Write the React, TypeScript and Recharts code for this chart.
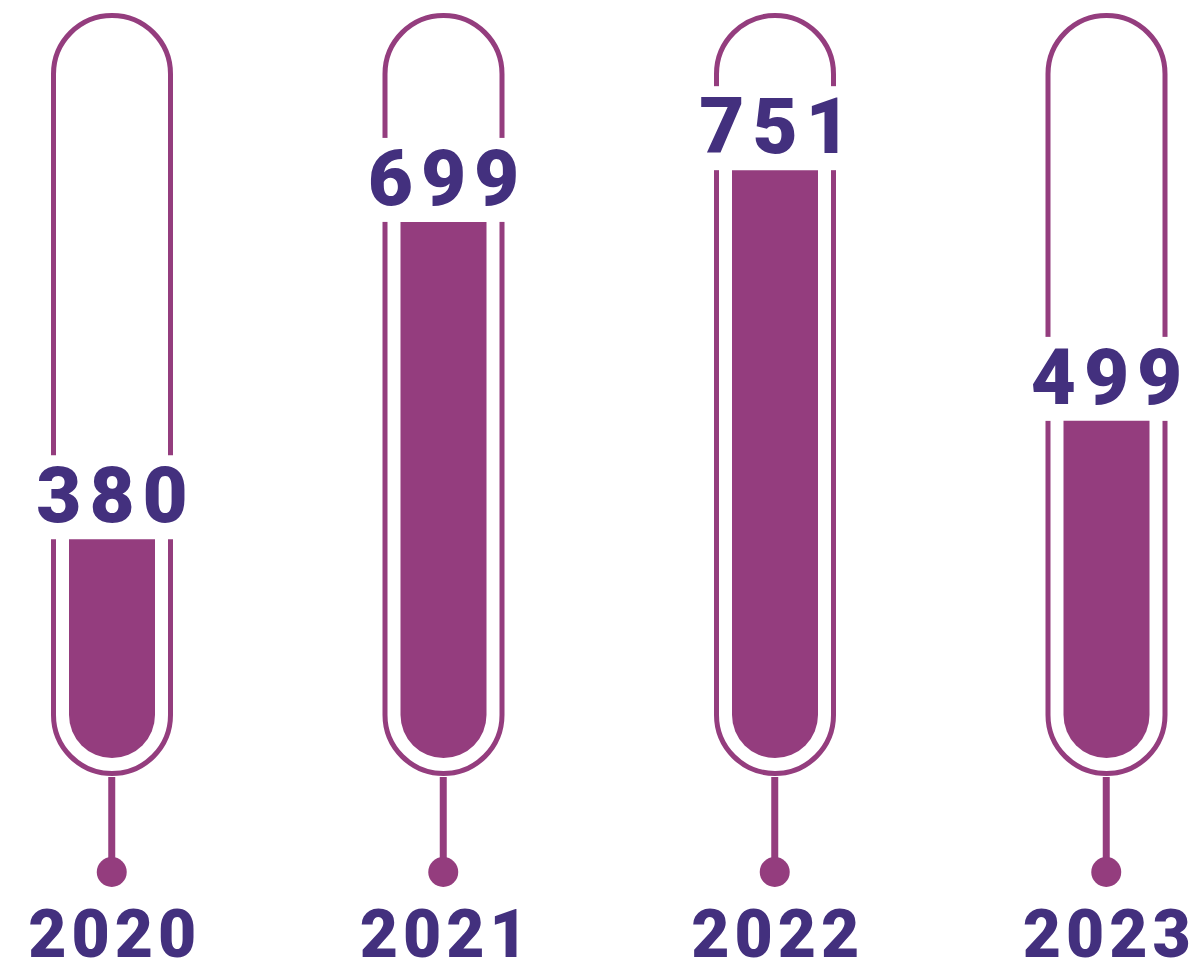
import React from 'react';
import { BarChart, Bar, XAxis, YAxis } from 'recharts';

const years = ['2020', '2021', '2022', '2023'];
const counts = [380, 699, 751, 499];

const data = years.map((year, i) => ({ year, count: counts[i] }));

const TUBE = '#943d7e';
const INK = '#43307e';
const TOP = 13;
const AXIS_H = 180; // plot area ends at y = 780
const BULB_GAP = 22; // fill bulb sits a little above the plot bottom
const TUBE_R = 58.5;
const FILL_R = 43;
const FONT = "Roboto, Lato, 'Open Sans', sans-serif";

const Thermometer = (props: any) => {
  const { x, y, width, height, value } = props;
  const cx = x + width / 2;
  const bottom = y + height - BULB_GAP;
  const arcY = bottom - FILL_R;
  const topY = TOP + 2.5 + TUBE_R;
  const outline = `M${cx - TUBE_R},${arcY} L${cx - TUBE_R},${topY} A${TUBE_R},${TUBE_R} 0 0 1 ${cx + TUBE_R},${topY} L${cx + TUBE_R},${arcY} A${TUBE_R},${TUBE_R} 0 0 1 ${cx - TUBE_R},${arcY} Z`;
  const fill = `M${cx - FILL_R},${y} L${cx + FILL_R},${y} L${cx + FILL_R},${arcY} A${FILL_R},${FILL_R} 0 0 1 ${cx - FILL_R},${arcY} Z`;
  return (
    <g>
      <path d={outline} fill="none" stroke={TUBE} strokeWidth={5} />
      <rect x={cx - 85} y={y - 84} width={170} height={84} fill="#fff" />
      <path d={fill} fill={TUBE} />
      <text
        x={cx + 4}
        y={y - 17}
        textAnchor="middle"
        fill={INK}
        fontFamily={FONT}
        fontWeight={900}
        fontSize={78}
        letterSpacing={8}
      >
        {value}
      </text>
    </g>
  );
};

// year label plus the stem and bead hanging under each tube
const YearTick = (props: any) => {
  const { x, y, payload } = props;
  return (
    <g>
      <line x1={x} y1={y - 3} x2={x} y2={y + 92} stroke={TUBE} strokeWidth={7} />
      <circle cx={x} cy={y + 92} r={15} fill={TUBE} />
      <text
        x={x + 3}
        y={y + 177}
        textAnchor="middle"
        fill={INK}
        fontFamily={FONT}
        fontWeight={900}
        fontSize={66}
        letterSpacing={5}
      >
        {payload.value}
      </text>
    </g>
  );
};

export default function App() {
  return (
    <div style={{ position: 'absolute', left: 0, top: 0, width: 1189, height: 960, overflow: 'hidden', background: '#fff' }}>
      <div style={{ position: 'absolute', left: -54, top: 0 }}>
        <BarChart width={1326} height={960} data={data} margin={{ top: TOP, right: 0, left: 0, bottom: 0 }}>
          <XAxis
            dataKey="year"
            height={AXIS_H}
            tickLine={false}
            axisLine={false}
            tickSize={0}
            tickMargin={0}
            tick={<YearTick />}
            interval={0}
          />
          <YAxis hide domain={[138, 909]} allowDataOverflow />
          <Bar dataKey="count" barSize={86} shape={<Thermometer />} isAnimationActive={false} />
        </BarChart>
      </div>
    </div>
  );
}
